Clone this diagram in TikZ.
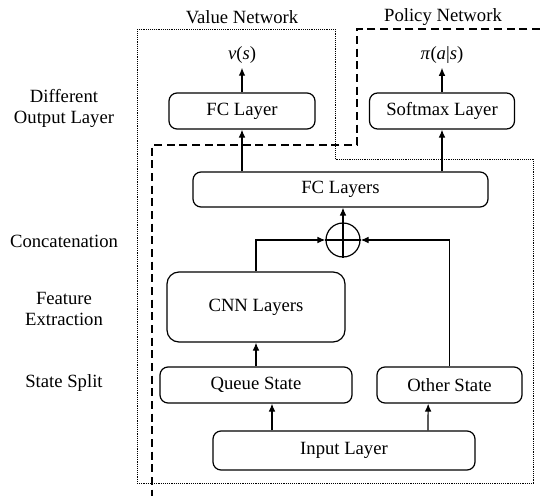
\documentclass[tikz,border=0pt]{standalone}
\usepackage{fontspec}
\setmainfont{Liberation Serif}
\usetikzlibrary{arrows.meta}
\tikzset{
  font={\fontsize{14pt}{15.75pt}\selectfont}}

\begin{document}
\begin{tikzpicture}[x=0.75pt,y=-0.75pt]
\tikzstyle{every node}+=[inner sep=0pt]
\tikzstyle{layer}=[draw, rounded corners=6pt, line width=0.9pt]
\tikzstyle{flow}=[-{Latex[length=6pt,width=5pt]}, line width=0.9pt]
\tikzstyle{valuenet}=[line width=0.7pt, dash pattern=on 0.7pt off 0.7pt]
\tikzstyle{policynet}=[line width=1pt, dash pattern=on 6pt off 3.5pt]
\useasboundingbox (0,0) rectangle (540,496);
% value / policy regions
\draw [valuenet] (137,29) -- (335,29) -- (335,159) -- (533,159) -- (533,483) -- (137,483) -- cycle;
\draw [policynet] (540,29) -- (357,29) -- (357,145) -- (152,145) -- (152,496);
\node (vnet) at (242,17) {Value Network};
\node (pnet) at (443,17) {Policy Network};
% row labels
\node (lout) [align=center] at (64,108) {Different\\Output Layer};
\node (lcat) at (64,241) {Concatenation};
\node (lfeat) [align=center] at (64,309) {Feature\\Extraction};
\node (lsplit) at (64,383) {State Split};
% layers
\node (vs) [inner sep=3pt] at (242,55) {\textit{v}(\textit{s})};
\node (pas) [inner sep=3pt] at (442,55) {\textit{π}(\textit{a}|\textit{s})};
\node (fc) [layer, minimum width=109.5pt, minimum height=27pt] at (242,111) {FC Layer};
\node (soft) [layer, minimum width=108.75pt, minimum height=27pt] at (442,111) {Softmax Layer};
\node (fcs) [layer, minimum width=221.25pt, minimum height=26.25pt] at (340.5,189.5) {FC Layers};
\node (plus) [draw, circle, line width=0.9pt, minimum size=25.5pt] at (343,240) {};
\draw [line width=0.9pt] (plus.north) -- (plus.south) (plus.west) -- (plus.east);
\node (cnn) [layer, rounded corners=9pt, minimum width=133.5pt, minimum height=52.5pt] at (256,307) {CNN Layers};
\node (queue) [layer, minimum width=144pt, minimum height=27pt] at (256,385) {Queue State};
\node (other) [layer, minimum width=108.75pt, minimum height=27pt] at (449.5,385) {Other State};
\node (input) [layer, minimum width=196.5pt, minimum height=29.25pt] at (344,450.5) {Input Layer};
% connections
\draw [flow] ([xshift=-54pt]input.north) -- ([xshift=12pt]queue.south);
\draw [flow] ([xshift=63pt]input.north) -- ([xshift=-16pt]other.south);
\draw [flow] (queue.north) -- (cnn.south);
\draw [flow] (cnn.north) |- (plus.west);
\draw [flow] (other.north) |- (plus.east);
\draw [flow] (plus.north) -- (plus.north |- fcs.south);
\draw [flow] (fcs.north -| fc.south) -- (fc.south);
\draw [flow] (fcs.north -| soft.south) -- (soft.south);
\draw [flow] (fc.north) -- (fc.north |- vs.south);
\draw [flow] (soft.north) -- (soft.north |- pas.south);
\end{tikzpicture}
\end{document}
